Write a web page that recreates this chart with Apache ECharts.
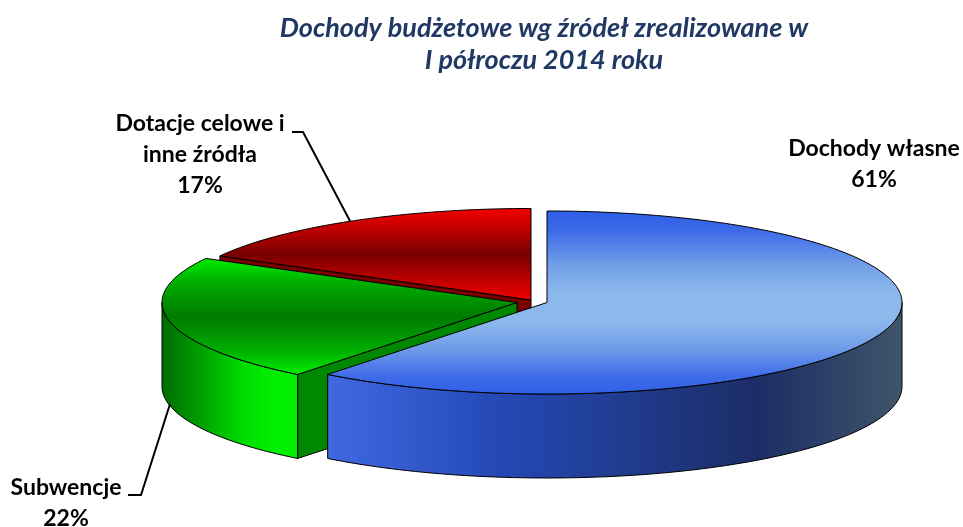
<!DOCTYPE html>
<html>
<head>
<meta charset="utf-8">
<title>Dochody budżetowe</title>
<script src="https://cdn.jsdelivr.net/npm/echarts@6/dist/echarts.min.js"></script>
<style>
  html, body { margin: 0; padding: 0; background: #fff; }
  #chart { width: 963px; height: 527px; }
</style>
</head>
<body>
<div id="chart"></div>
<script>
const categories = ["Dochody własne", "Subwencje", "Dotacje celowe i\ninne źródła"];
// the labels show them rounded
const shares = [60.6, 22.4, 17];

// exploded pie drawn as an ellipse, echarts pie can only do circles
const RX = 355;
const RY = 91.5;
const DEPTH = 84;
const FONT = "Lato";

const sliceStyles = [
  {
    cx: 547, cy: 302.5, z: 3,
    top: [[0, "#2e5fe8"], [0.1, "#3a68e8"], [0.3, "#729fe8"], [0.45, "#8cb9ec"], [0.6, "#8cb9ec"], [0.75, "#6f9ce8"], [0.9, "#3f6ce8"], [1, "#2e5fe8"]],
    wall: [[0, "#4069e2"], [0.3, "#2448b5"], [0.75, "#1c2d66"], [1, "#3f5568"]],
    cut: "#2448b5",
    label: [874, 164], leader: null
  },
  {
    cx: 517, cy: 302.5, z: 2,
    top: [[0, "#00ee00"], [0.2, "#00b000"], [0.5, "#007a00"], [0.8, "#00b000"], [1, "#00ee00"]],
    wall: [[0, "#006c00"], [0.12, "#008000"], [0.6, "#00dc00"], [0.8, "#00ee00"], [1, "#00ee00"]],
    cut: "#008800",
    label: [66, 503.5], leader: [[170, 404], [141, 495], [128, 495]]
  },
  {
    cx: 531, cy: 300, z: 1,
    top: [[0, "#f20000"], [0.2, "#c80000"], [0.5, "#780000"], [0.8, "#c40000"], [1, "#f20000"]],
    wall: [[0, "#7a0000"], [1, "#7a0000"]],
    cut: "#7a0000",
    label: [200, 155], leader: [[350, 221], [303, 132], [292, 132]]
  }
];

function pt(s, deg, dy) {
  const a = deg * Math.PI / 180;
  return [s.cx + RX * Math.sin(a), s.cy - RY * Math.cos(a) + (dy || 0)];
}

function arc(s, from, to, dy) {
  const out = [];
  const n = Math.max(2, Math.ceil(Math.abs(to - from) / 1.5));
  for (let i = 0; i <= n; i++) {
    out.push(pt(s, from + (to - from) * i / n, dy));
  }
  return out;
}

function grad(stops, horizontal) {
  return {
    type: "linear", x: 0, y: 0,
    x2: horizontal ? 1 : 0, y2: horizontal ? 0 : 1,
    colorStops: stops.map(([offset, color]) => ({ offset, color }))
  };
}

const total = shares.reduce((a, b) => a + b, 0);

function renderSlice(params, api) {
  const i = params.dataIndex;
  const s = sliceStyles[i];
  let start = 0;
  for (let k = 0; k < i; k++) start += shares[k] / total * 360;
  const end = start + api.value(0) / total * 360;
  const center = [s.cx, s.cy];
  const edge = { stroke: "#000", lineWidth: 1 };
  const children = [];

  const cutFace = (deg) => {
    const p = pt(s, deg);
    children.push({
      type: "polygon", z2: s.z,
      shape: { points: [center, p, [p[0], p[1] + DEPTH], [s.cx, s.cy + DEPTH]] },
      style: { fill: s.cut, ...edge }
    });
  };
  // a cut face is only seen when it turns towards the viewer
  if (Math.sin(start * Math.PI / 180) < -1e-6) cutFace(start);
  if (Math.sin(end * Math.PI / 180) > 1e-6) cutFace(end);

  // outer rim, front half of the ellipse
  const from = Math.max(start, 90);
  const to = Math.min(end, 270);
  if (to > from) {
    children.push({
      type: "polygon", z2: s.z,
      shape: { points: arc(s, from, to).concat(arc(s, to, from, DEPTH)) },
      style: { fill: grad(s.wall, true), ...edge }
    });
  }

  // top face
  children.push({
    type: "polygon", z2: s.z,
    shape: { points: [center].concat(arc(s, start, end)) },
    style: { fill: grad(s.top, false), ...edge }
  });

  if (s.leader) {
    children.push({
      type: "polyline", z2: 5,
      shape: { points: s.leader },
      style: { fill: "none", stroke: "#000", lineWidth: 2 }
    });
  }

  children.push({
    type: "text", z2: 6,
    x: s.label[0], y: s.label[1],
    style: {
      text: categories[i] + "\n" + Math.round(api.value(0)) + "%",
      font: "bold 23px " + FONT,
      lineHeight: 31,
      fill: "#000",
      align: "center",
      verticalAlign: "middle"
    }
  });

  return { type: "group", children };
}

const chart = echarts.init(document.getElementById("chart"), null, { renderer: "canvas" });
chart.setOption({
  animation: false,
  backgroundColor: "#fff",
  title: {
    text: "Dochody budżetowe wg źródeł zrealizowane w\nI półroczu 2014 roku",
    left: 539,
    top: 7,
    textAlign: "center",
    textStyle: {
      fontFamily: FONT,
      fontSize: 27,
      fontWeight: "bold",
      fontStyle: "italic",
      color: "#1f3864",
      lineHeight: 32
    }
  },
  series: [
    {
      type: "custom",
      coordinateSystem: "none",
      silent: true,
      renderItem: renderSlice,
      data: shares.map((v, i) => ({ name: categories[i], value: [v] }))
    }
  ]
});
</script>
</body>
</html>
